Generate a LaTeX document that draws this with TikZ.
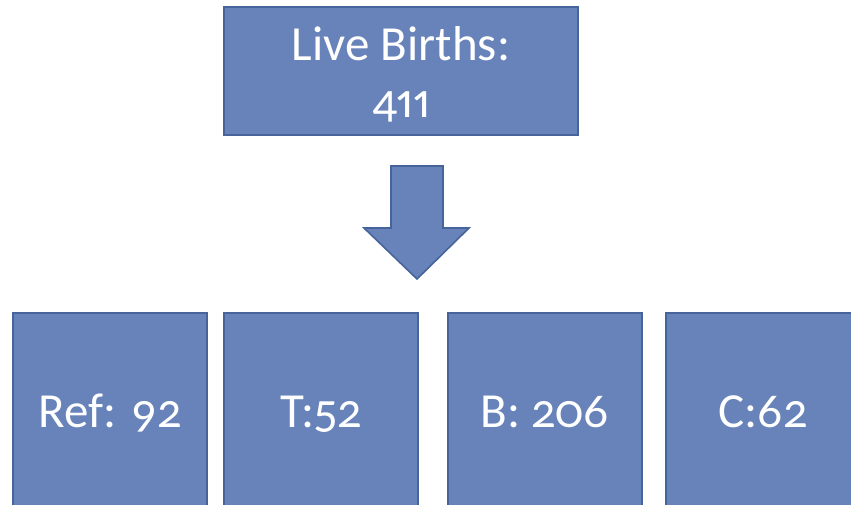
\documentclass[tikz,border=0pt]{standalone}
\usepackage{fontspec}
\setmainfont[Numbers={OldStyle,Proportional}]{Carlito}
\definecolor{boxfill}{HTML}{6783BA}
\definecolor{boxline}{HTML}{46649A}
\begin{document}
\begin{tikzpicture}[x=1pt,y=-1pt,
  blk/.style={draw=boxline,fill=boxfill,line width=1.6pt},
  lbl/.style={text=white,font=\fontsize{49}{60}\selectfont,anchor=base,inner sep=0pt}]
\useasboundingbox (0,0) rectangle (851,504);
\clip (0,0) rectangle (851,504);
\draw[blk] (224,7) rectangle (578,135);
\node[lbl] (t1) at (401,60) {Live Births:};
\node[lbl] (t2) at (401,117) {411};
\draw[blk,line join=miter] (391,166) -- (443,166) -- (443,228) -- (469,228) -- (417,279) -- (364,228) -- (391,228) -- cycle;
\draw[blk] (13,313) rectangle (207,520);
\draw[blk] (224,313) rectangle (418,520);
\draw[blk] (448,313) rectangle (642,520);
\draw[blk] (666,313) rectangle (860,520);
\node[lbl] (b1) at (110,427) {Ref: 92};
\node[lbl] (b2) at (321,427) {T:52};
\node[lbl] (b3) at (545,427) {B: 206};
\node[lbl] (b4) at (763,427) {C:62};
\end{tikzpicture}
\end{document}
